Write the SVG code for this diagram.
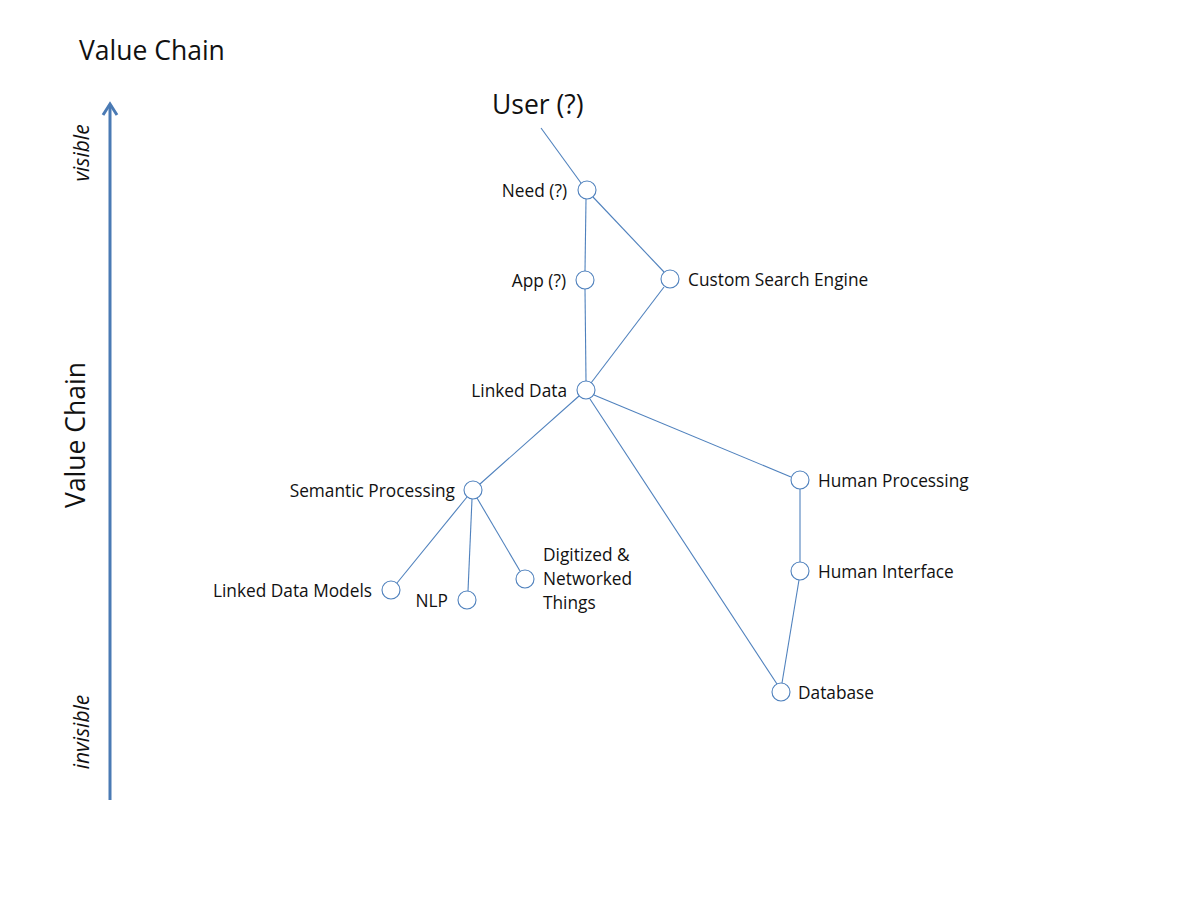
<svg xmlns="http://www.w3.org/2000/svg" width="1200" height="900" viewBox="0 0 1200 900">
<style>
.lbl{font-family:"Open Sans","Noto Sans",sans-serif;font-size:17.3px;fill:#111}
.big{font-family:"Open Sans","Noto Sans",sans-serif;font-size:26.5px;fill:#111}
.it{font-family:"Open Sans","Noto Sans",sans-serif;font-size:21px;font-style:italic;fill:#111}
.node circle{fill:#fff;stroke:#4f81bd;stroke-width:1.1}
#connectors line{stroke:#4f81bd;stroke-width:1.1}
</style>
<rect width="1200" height="900" fill="#fff"/>
<g id="axis">
<line x1="110" y1="800" x2="110" y2="105" stroke="#4a7ab4" stroke-width="3"/>
<polyline points="103,115 110,104 117,115" fill="none" stroke="#4a7ab4" stroke-width="3"/>
<text class="big" x="79" y="60">Value Chain</text>
<text class="big" transform="translate(85,435) rotate(-90)" text-anchor="middle" font-size="32">Value Chain</text>
<text class="it" transform="translate(89,153) rotate(-90)" text-anchor="middle">visible</text>
<text class="it" transform="translate(89,732) rotate(-90)" text-anchor="middle">invisible</text>
</g>
<g id="connectors">
<line x1="541" y1="128" x2="581" y2="183"/>
<line x1="586" y1="199" x2="585" y2="271"/>
<line x1="593" y1="197" x2="664" y2="272"/>
<line x1="585" y1="289" x2="586" y2="381"/>
<line x1="664" y1="287" x2="591" y2="383"/>
<line x1="579" y1="396" x2="480" y2="484"/>
<line x1="594" y1="395" x2="791" y2="477"/>
<line x1="590" y1="399" x2="777" y2="684"/>
<line x1="467" y1="497" x2="397" y2="583"/>
<line x1="472" y1="499" x2="468" y2="591"/>
<line x1="477" y1="498" x2="520" y2="571"/>
<line x1="800" y1="489" x2="800" y2="562"/>
<line x1="799" y1="580" x2="782" y2="683"/>
</g>
<g id="user"><text class="big" x="492" y="114">User (?)</text></g>
<g id="need" class="node"><circle cx="587" cy="190" r="9"/><text class="lbl" x="567" y="197" text-anchor="end">Need (?)</text></g>
<g id="app" class="node"><circle cx="585" cy="280" r="9"/><text class="lbl" x="566" y="287" text-anchor="end">App (?)</text></g>
<g id="cse" class="node"><circle cx="670" cy="279" r="9"/><text class="lbl" x="688" y="286">Custom Search Engine</text></g>
<g id="linked-data" class="node"><circle cx="586" cy="390" r="9"/><text class="lbl" x="567" y="397" text-anchor="end">Linked Data</text></g>
<g id="semantic" class="node"><circle cx="473" cy="490" r="9"/><text class="lbl" x="455" y="497" text-anchor="end">Semantic Processing</text></g>
<g id="ldm" class="node"><circle cx="391" cy="590" r="9"/><text class="lbl" x="372" y="597" text-anchor="end">Linked Data Models</text></g>
<g id="nlp" class="node"><circle cx="467" cy="600" r="9"/><text class="lbl" x="448" y="607" text-anchor="end">NLP</text></g>
<g id="digitized" class="node"><circle cx="525" cy="579" r="9"/><text class="lbl" x="543" y="561">Digitized &amp;</text><text class="lbl" x="543" y="585">Networked</text><text class="lbl" x="543" y="609">Things</text></g>
<g id="human-processing" class="node"><circle cx="800" cy="480" r="9"/><text class="lbl" x="818" y="487">Human Processing</text></g>
<g id="human-interface" class="node"><circle cx="800" cy="571" r="9"/><text class="lbl" x="818" y="578">Human Interface</text></g>
<g id="database" class="node"><circle cx="781" cy="692" r="9"/><text class="lbl" x="798" y="699">Database</text></g>
</svg>
